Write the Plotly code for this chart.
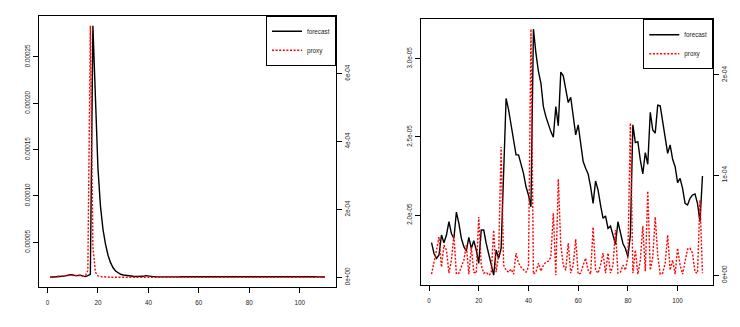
import plotly.graph_objects as go

# ---------------- data ----------------
t = list(range(1, 111))

# left panel (forecast in 1e-5 units, proxy in 1e-4 units)
left_forecast_e5 = [
    1.23, 1.24, 1.25, 1.27, 1.30, 1.33, 1.38, 1.45, 1.50, 1.48,
    1.40, 1.42, 1.46, 1.35, 1.30, 1.40, 1.55, 28.35, 20.5, 13.0,
    8.9, 6.4, 4.8, 3.6, 2.8, 2.25, 1.9, 1.7, 1.55, 1.47,
    1.42, 1.38, 1.35, 1.33, 1.31, 1.30, 1.30, 1.33, 1.40, 1.35,
    1.32, 1.30, 1.29, 1.28, 1.28, 1.27, 1.27, 1.27, 1.27, 1.27,
    1.27, 1.27, 1.28, 1.28, 1.29, 1.30, 1.31, 1.33, 1.33, 1.32,
    1.31, 1.31, 1.32, 1.34, 1.34, 1.32, 1.30, 1.29, 1.29, 1.30,
    1.31, 1.31, 1.30, 1.30, 1.30, 1.29, 1.29, 1.29, 1.28, 1.28,
    1.28, 1.29, 1.30, 1.30, 1.29, 1.29, 1.28, 1.28, 1.28, 1.28,
    1.28, 1.28, 1.28, 1.29, 1.30, 1.33, 1.36, 1.36, 1.35, 1.33,
    1.32, 1.31, 1.30, 1.29, 1.28, 1.28, 1.27, 1.27, 1.26, 1.26,
]
left_proxy_e4 = [
    0.00, 0.01, 0.02, 0.02, 0.03, 0.04, 0.05, 0.06, 0.06, 0.05,
    0.04, 0.05, 0.05, 0.03, 0.04, 0.20, 7.41, 0.90, 0.15, 0.04,
    0.02, 0.01, 0.01, 0.01, 0.00, 0.00, 0.00, 0.00, 0.00, 0.00,
    0.00, 0.00, 0.00, 0.00, 0.00, 0.00, 0.00, 0.00, 0.01, 0.00,
    0.00, 0.00, 0.00, 0.00, 0.00, 0.00, 0.00, 0.00, 0.00, 0.00,
    0.00, 0.00, 0.00, 0.00, 0.00, 0.00, 0.00, 0.01, 0.01, 0.00,
    0.00, 0.00, 0.00, 0.01, 0.01, 0.00, 0.00, 0.00, 0.00, 0.00,
    0.00, 0.00, 0.00, 0.00, 0.00, 0.00, 0.00, 0.00, 0.00, 0.00,
    0.00, 0.00, 0.00, 0.00, 0.00, 0.00, 0.00, 0.00, 0.00, 0.00,
    0.00, 0.00, 0.00, 0.00, 0.00, 0.01, 0.01, 0.01, 0.01, 0.00,
    0.00, 0.00, 0.00, 0.00, 0.00, 0.00, 0.00, 0.00, 0.00, 0.00,
]

# right panel
right_forecast_e5 = [
    1.823, 1.754, 1.722, 1.744, 1.872, 1.823, 1.872, 1.957, 1.882, 1.850,
    2.019, 1.947, 1.850, 1.797, 1.771, 1.857, 1.786, 1.835, 1.776, 1.690,
    1.904, 1.904, 1.818, 1.744, 1.690, 1.615, 1.776, 1.722, 1.786, 2.246,
    2.746, 2.673, 2.577, 2.481, 2.385, 2.385, 2.331, 2.267, 2.182, 2.128,
    2.053, 3.190, 3.036, 2.919, 2.844, 2.694, 2.630, 2.577, 2.534, 2.498,
    2.694, 2.571, 2.915, 2.891, 2.812, 2.720, 2.754, 2.641, 2.513, 2.577,
    2.459, 2.342, 2.299, 2.263, 2.182, 2.075, 2.218, 2.160, 2.064, 1.979,
    1.994, 1.915, 1.929, 1.872, 1.812, 1.957, 1.882, 1.818, 1.786, 1.733,
    1.872, 2.577, 2.464, 2.470, 2.353, 2.263, 2.400, 2.325, 2.658, 2.545,
    2.524, 2.703, 2.699, 2.598, 2.481, 2.395, 2.449, 2.357, 2.310, 2.207,
    2.235, 2.171, 2.075, 2.064, 2.107, 2.128, 2.135, 2.075, 1.957, 2.250,
]
right_proxy_e4 = [
    0.01, 0.12, 0.25, 0.38, 0.08, 0.30, 0.25, 0.02, 0.15, 0.40,
    0.01, 0.02, 0.08, 0.15, 0.30, 0.01, 0.28, 0.03, 0.02, 0.58,
    0.10, 0.02, 0.03, 0.00, 0.02, 0.45, 0.03, 0.20, 1.28, 0.10,
    0.05, 0.03, 0.06, 0.01, 0.22, 0.12, 0.08, 0.05, 0.03, 0.08,
    2.457, 0.01, 0.03, 0.12, 0.04, 0.10, 0.13, 0.14, 0.18, 0.62,
    0.00, 0.96, 0.30, 0.10, 0.05, 0.32, 0.02, 0.10, 0.36, 0.01,
    0.02, 0.10, 0.17, 0.05, 0.01, 0.48, 0.05, 0.02, 0.10, 0.22,
    0.02, 0.22, 0.02, 0.10, 0.45, 0.02, 0.03, 0.10, 0.05, 0.18,
    1.52, 0.02, 0.25, 0.01, 0.15, 0.49, 0.04, 0.84, 0.05, 0.18,
    0.58, 0.20, 0.01, 0.02, 0.12, 0.40, 0.05, 0.15, 0.01, 0.27,
    0.10, 0.01, 0.15, 0.26, 0.27, 0.22, 0.03, 0.02, 0.75, 0.02,
]

x_ticks = [0, 20, 40, 60, 80, 100]
left_f_ticks = [5e-5, 10e-5, 15e-5, 20e-5, 25e-5]
left_f_labels = ["0.00005", "0.00010", "0.00015", "0.00020", "0.00025"]
left_p_ticks = [0, 2e-4, 4e-4, 6e-4]
left_p_labels = ["0e+00", "2e-04", "4e-04", "6e-04"]
right_f_ticks = [2.0e-5, 2.5e-5, 3.0e-5]
right_f_labels = ["2.0e-05", "2.5e-05", "3.0e-05"]
right_p_ticks = [0, 1e-4, 2e-4]
right_p_labels = ["0e+00", "1e-04", "2e-04"]

lf = [v * 1e-5 for v in left_forecast_e5]
lp = [v * 1e-4 for v in left_proxy_e4]
rf = [v * 1e-5 for v in right_forecast_e5]
rp = [v * 1e-4 for v in right_proxy_e4]


def rrange(vals):
    lo, hi = min(vals), max(vals)
    d = (hi - lo) * 0.04
    return [lo - d, hi + d]


W, H = 740, 327
FONT = "Liberation Sans, Arial, sans-serif"
FS = 6.3

fig = go.Figure()
black = dict(color="black", width=1.4)
red = dict(color="red", width=1.4, dash="2px,1.6px")

fig.add_trace(go.Scatter(x=t, y=lf, mode="lines", line=black, name="forecast",
                         xaxis="x", yaxis="y", legend="legend"))
fig.add_trace(go.Scatter(x=t, y=lp, mode="lines", line=red, name="proxy",
                         xaxis="x", yaxis="y2", legend="legend"))
fig.add_trace(go.Scatter(x=t, y=rf, mode="lines", line=black, name="forecast",
                         xaxis="x2", yaxis="y3", legend="legend2"))
fig.add_trace(go.Scatter(x=t, y=rp, mode="lines", line=red, name="proxy",
                         xaxis="x2", yaxis="y4", legend="legend2"))

# panel geometry in pixels
L = dict(x0=39, x1=336, y0=15.7, y1=287.3)
R = dict(x0=420.7, x1=713.3, y0=19.3, y1=285.0)


def xd(p):
    return [p["x0"] / W, p["x1"] / W]


def yd(p):
    return [1 - p["y1"] / H, 1 - p["y0"] / H]


common = dict(showgrid=False, zeroline=False, showline=True, linecolor="black",
              linewidth=1, ticks="outside", ticklen=5, tickwidth=1,
              tickcolor="black", tickfont=dict(size=FS, color="#222", family=FONT),
              automargin=False)

xr = rrange(t)
fig.update_layout(
    width=W, height=H,
    margin=dict(l=0, r=0, t=0, b=0),
    paper_bgcolor="white", plot_bgcolor="white",
    font=dict(family=FONT, size=FS, color="#222"),
    hovermode=False,
    xaxis=dict(domain=xd(L), range=xr, anchor="y", tickvals=x_ticks,
               mirror=True, ticklabelstandoff=4, **common),
    yaxis=dict(domain=yd(L), range=rrange(lf), anchor="x", tickvals=left_f_ticks,
               ticktext=left_f_labels, tickangle=-90, mirror=True, **common),
    yaxis2=dict(range=rrange(lp), overlaying="y", side="right", anchor="x",
                tickvals=left_p_ticks, ticktext=left_p_labels, tickangle=-90, **common),
    xaxis2=dict(domain=xd(R), range=xr, anchor="y3", tickvals=x_ticks,
                mirror=True, ticklabelstandoff=4, **common),
    yaxis3=dict(domain=yd(R), range=rrange(rf), anchor="x2", tickvals=right_f_ticks,
                ticktext=right_f_labels, tickangle=-90, mirror=True, **common),
    yaxis4=dict(range=rrange(rp), overlaying="y3", side="right", anchor="x2",
                tickvals=right_p_ticks, ticktext=right_p_labels, tickangle=-90, **common),
    legend=dict(x=L["x1"] / W, y=1 - L["y0"] / H, xanchor="right", yanchor="top",
                bordercolor="black", borderwidth=1, bgcolor="white",
                font=dict(size=FS, family=FONT), itemwidth=30, tracegroupgap=0),
    legend2=dict(x=R["x1"] / W, y=1 - R["y0"] / H, xanchor="right", yanchor="top",
                 bordercolor="black", borderwidth=1, bgcolor="white",
                 font=dict(size=FS, family=FONT), itemwidth=30, tracegroupgap=0),
)

fig.write_html("out.html", config={"displayModeBar": False},
               post_script="document.body.style.margin='0px';")
